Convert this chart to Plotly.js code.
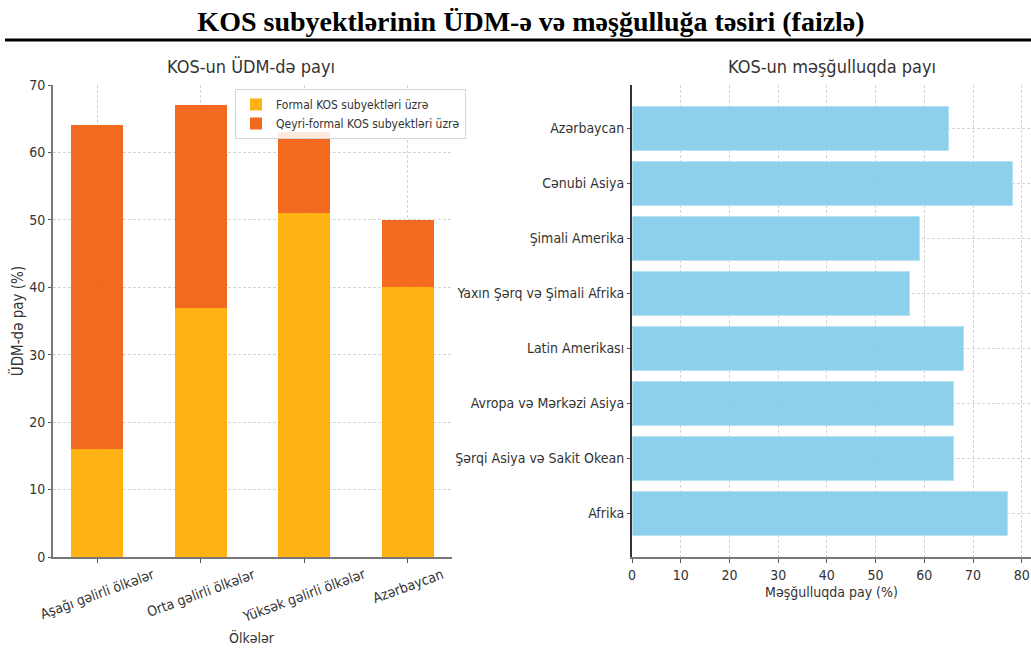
<!DOCTYPE html>
<html>
<head>
<meta charset="utf-8">
<script src="https://cdn.plot.ly/plotly-3.0.1.min.js"></script>
<style>html,body{margin:0;padding:0;background:#fff;}#chart{width:1031px;height:649px;}</style>
</head>
<body>
<div id="chart"></div>
<script>
// ---- data ----
const mainTitle = "KOS subyektlərinin ÜDM-ə və məşğulluğa təsiri (faizlə)";
const leftTitle = "KOS-un ÜDM-də payı";
const rightTitle = "KOS-un məşğulluqda payı";
const incomeGroups = ["Aşağı gəlirli ölkələr", "Orta gəlirli ölkələr", "Yüksək gəlirli ölkələr", "Azərbaycan"];
const formalShare = [16, 37, 51, 40];
const informalShare = [48, 30, 12, 10];
const formalName = "Formal KOS subyektləri üzrə";
const informalName = "Qeyri-formal KOS subyektləri üzrə";
const regions = ["Azərbaycan", "Cənubi Asiya", "Şimali Amerika", "Yaxın Şərq və Şimali Afrika", "Latin Amerikası", "Avropa və Mərkəzi Asiya", "Şərqi Asiya və Sakit Okean", "Afrika"];
const employmentShare = [65, 78, 59, 57, 68, 66, 66, 77];
const leftYTitle = "ÜDM-də pay (%)";
const leftXTitle = "Ölkələr";
const rightXTitle = "Məşğulluqda pay (%)";

const W = 1031, H = 649;
const px = x => x / W;
const py = y => 1 - y / H;
const FONT = "DejaVu Sans Condensed, DejaVu Sans, Noto Sans, sans-serif";
const tickFont = {family: FONT, size: 14, color: "#333"};

const traces = [
  {type: "bar", x: incomeGroups, y: formalShare, name: formalName, marker: {color: "#FFAC00"}, opacity: 0.92, width: 0.5, xaxis: "x", yaxis: "y"},
  {type: "bar", x: incomeGroups, y: informalShare, name: informalName, marker: {color: "#F15E0E"}, opacity: 0.92, width: 0.5, xaxis: "x", yaxis: "y"},
  {type: "bar", orientation: "h", x: employmentShare, y: regions, marker: {color: "#87CEEB", line: {color: "#b5e2f3", width: 1}}, opacity: 0.95, width: 0.8, showlegend: false, xaxis: "x2", yaxis: "y2"}
];

const annotations = [
  {text: leftTitle, xref: "paper", yref: "paper", x: px(251), y: py(67), xanchor: "center", yanchor: "middle", showarrow: false, font: {family: FONT, size: 18, color: "#333"}},
  {text: rightTitle, xref: "paper", yref: "paper", x: px(832), y: py(67), xanchor: "center", yanchor: "middle", showarrow: false, font: {family: FONT, size: 18, color: "#333"}},
  {text: leftXTitle, xref: "paper", yref: "paper", x: px(252), y: py(637), xanchor: "center", yanchor: "middle", showarrow: false, font: {family: FONT, size: 14, color: "#333"}}
];
incomeGroups.forEach(g => {
  annotations.push({text: g, xref: "x", yref: "paper", x: g, y: py(563), xanchor: "center", yanchor: "top", textangle: -20, showarrow: false, font: tickFont});
});

const gridStyle = {showgrid: true, gridcolor: "#d4d4d4", griddash: "3px,2px", gridwidth: 1};

const layout = {
  width: W, height: H,
  margin: {l: 0, r: 0, t: 0, b: 0},
  paper_bgcolor: "#fff", plot_bgcolor: "#fff",
  barmode: "stack",
  showlegend: true,
  title: {text: mainTitle, x: px(531), xanchor: "center", y: py(21), yanchor: "middle", font: {family: "Liberation Serif, Times New Roman, serif", size: 28, color: "#000", weight: "bold"}},
  legend: {x: px(235), y: py(89), xanchor: "left", yanchor: "top", bgcolor: "rgba(255,255,255,0.85)", bordercolor: "#d6d6d6", borderwidth: 1, traceorder: "normal", font: {family: FONT, size: 12, color: "#333"}, tracegroupgap: 2},
  xaxis: Object.assign({}, gridStyle, {domain: [px(53), px(452)], anchor: "y", type: "category", range: [-0.425, 3.425], showticklabels: false, ticks: "outside", ticklen: 4, tickcolor: "#555", showline: true, linecolor: "#777", linewidth: 2, zeroline: false}),
  yaxis: Object.assign({}, gridStyle, {domain: [py(557), py(85)], anchor: "x", range: [0, 70], dtick: 10, tickfont: tickFont, ticks: "outside", ticklen: 3, tickcolor: "#555", showline: true, linecolor: "#777", linewidth: 2, zeroline: false,
    title: {text: leftYTitle, font: {family: FONT, size: 15, color: "#333"}, standoff: 2}}),
  xaxis2: Object.assign({}, gridStyle, {domain: [px(632), 1], anchor: "y2", range: [0, 81.9], dtick: 10, tickfont: tickFont, ticks: "outside", ticklen: 4, tickcolor: "#555", showline: true, linecolor: "#777", linewidth: 2, zeroline: false,
    title: {text: rightXTitle, font: {family: FONT, size: 14, color: "#333"}, standoff: 5}}),
  yaxis2: Object.assign({}, gridStyle, {domain: [py(557), py(85)], anchor: "x2", type: "category", range: [7.79, -0.79], tickfont: tickFont, ticks: "outside", ticklen: 3, tickcolor: "#555", showline: true, linecolor: "#333", linewidth: 2, zeroline: false}),
  annotations: annotations,
  shapes: [
    {type: "line", xref: "paper", yref: "paper", x0: px(5), x1: 1, y0: py(40), y1: py(40), line: {color: "#000", width: 3}}
  ]
};

Plotly.newPlot("chart", traces, layout, {displayModeBar: false, responsive: false});
</script>
</body>
</html>
